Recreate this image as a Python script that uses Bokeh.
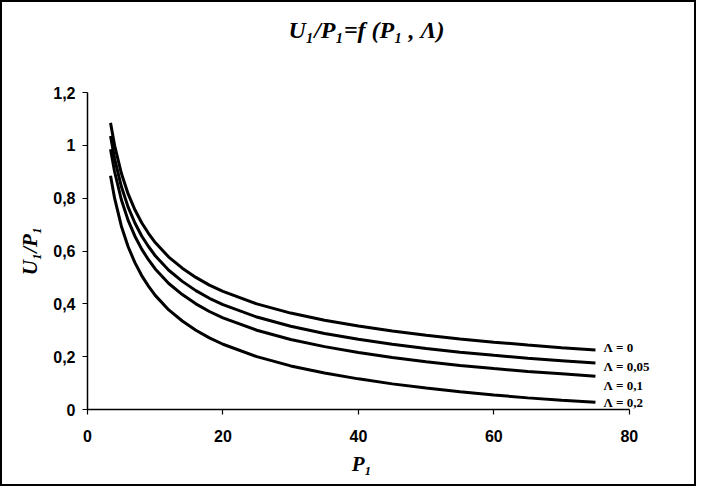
from bokeh.plotting import figure
from bokeh.models import Range1d, Label, FixedTicker, Title
from bokeh.embed import file_html
from bokeh.resources import INLINE

# ---- data ----
p1 = [3.4, 4, 5, 6, 7, 8, 9, 10, 12, 14, 16, 18, 20, 25, 30, 35, 40, 45, 50, 55, 60, 65, 70, 75]
u_lam_0 = [1.085, 1.000, 0.894, 0.816, 0.756, 0.707, 0.667, 0.632, 0.577, 0.535, 0.500, 0.471,
           0.447, 0.400, 0.365, 0.338, 0.316, 0.297, 0.281, 0.267, 0.255, 0.244, 0.234, 0.225]
u_lam_005 = [1.035, 0.950, 0.844, 0.766, 0.706, 0.657, 0.617, 0.582, 0.527, 0.485, 0.450, 0.421,
             0.397, 0.350, 0.315, 0.288, 0.266, 0.247, 0.231, 0.217, 0.205, 0.194, 0.185, 0.176]
u_lam_01 = [0.985, 0.900, 0.794, 0.716, 0.656, 0.607, 0.567, 0.532, 0.477, 0.435, 0.400, 0.371,
            0.347, 0.300, 0.265, 0.238, 0.216, 0.197, 0.181, 0.167, 0.155, 0.144, 0.135, 0.126]
u_lam_02 = [0.885, 0.800, 0.694, 0.616, 0.556, 0.507, 0.467, 0.432, 0.377, 0.335, 0.300, 0.271,
            0.247, 0.200, 0.165, 0.138, 0.116, 0.097, 0.081, 0.067, 0.055, 0.044, 0.035, 0.027]
series = [u_lam_0, u_lam_005, u_lam_01, u_lam_02]
series_labels = ["\u039b = 0", "\u039b = 0,05", "\u039b = 0,1", "\u039b = 0,2"]

x_ticks = [0, 20, 40, 60, 80]
x_tick_labels = ["0", "20", "40", "60", "80"]
y_ticks = [0, 0.2, 0.4, 0.6, 0.8, 1.0, 1.2]
y_tick_labels = ["0", "0,2", "0,4", "0,6", "0,8", "1", "1,2"]

title_text = "U\u2081/P\u2081=f (P\u2081 , \u039b)"
x_title = "P\u2081"
y_title = "U\u2081/P\u2081"

# label vertical nudges (px), styling only
label_nudge = [3, -3, -9, 0]

p = figure(width=696, height=486, output_backend="svg", toolbar_location=None,
           x_range=Range1d(0, 88), y_range=Range1d(0, 1.2),
           min_border_left=85, min_border_right=15, min_border_top=90, min_border_bottom=79,
           title=title_text)
p.styles = {"border": "2px solid black", "box-sizing": "border-box"}

p.title.align = "left"
p.title.offset = 201
p.title.standoff = 0
p.title.text_font = "Liberation Serif"
p.title.text_font_style = "bold italic"
p.title.text_font_size = "24px"
p.title.text_color = "black"

# invisible spacer between the frame and the title
p.add_layout(Title(text="\u00a0", text_font_size="1px", standoff=47), "above")

p.background_fill_color = "white"
p.border_fill_color = "white"
p.outline_line_color = None
p.grid.visible = False

for ax in (p.xaxis[0], p.yaxis[0]):
    ax.axis_line_color = "black"
    ax.axis_line_width = 1.5
    ax.major_tick_line_color = "black"
    ax.major_tick_line_width = 1.2
    ax.major_tick_out = 5
    ax.major_tick_in = 0
    ax.minor_tick_line_color = None
    ax.major_label_text_font = "Liberation Sans"
    ax.major_label_text_font_style = "bold"
    ax.major_label_text_font_size = "16px"
    ax.major_label_text_color = "black"
    ax.axis_label_text_font = "Liberation Serif"
    ax.axis_label_text_font_style = "bold italic"
    ax.axis_label_text_font_size = "21px"
    ax.axis_label_text_color = "black"

p.xaxis.ticker = FixedTicker(ticks=x_ticks)
p.xaxis.bounds = (x_ticks[0], x_ticks[-1])
p.xaxis.major_label_overrides = {t: s for t, s in zip(x_ticks, x_tick_labels)}
p.xaxis.major_label_standoff = 15
p.xaxis.axis_label = x_title + "\u00a0" * 9
p.xaxis.axis_label_standoff = 7

p.yaxis.ticker = FixedTicker(ticks=y_ticks)
p.yaxis.major_label_overrides = {t: s for t, s in zip(y_ticks, y_tick_labels)}
p.yaxis.major_label_standoff = 7
p.yaxis.axis_label = y_title
p.yaxis.axis_label_standoff = 8

for ys, lab, dy in zip(series, series_labels, label_nudge):
    p.line(p1, ys, line_color="black", line_width=3)
    p.add_layout(Label(x=p1[-1], y=ys[-1], text=lab, x_offset=8, y_offset=dy,
                       text_baseline="middle", text_font="Liberation Serif",
                       text_font_style="bold", text_font_size="13px", text_color="black"))

open("out.html", "w").write(file_html(p, INLINE))
